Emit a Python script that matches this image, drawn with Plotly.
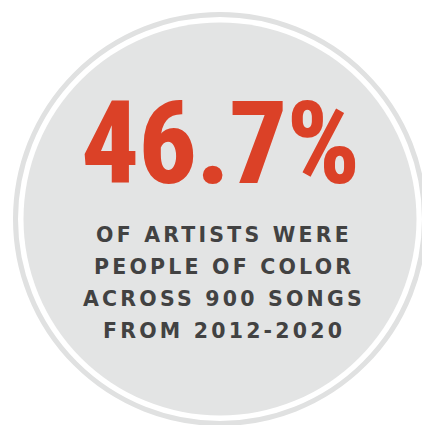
import plotly.graph_objects as go

# ---- content ----
headline = "46.7%"
subtitle_lines = [
    "OF ARTISTS WERE",
    "PEOPLE OF COLOR",
    "ACROSS 900 SONGS",
    "FROM 2012-2020",
]

# ---- styles ----
W, H = 422, 425
CX, CY = 220, 219
DISC_R = 196.5
RING_R = 204.5
DISC_COLOR = "#e3e4e4"
RING_COLOR = "#e0e1e1"
RED = "#db4127"
DARK = "#424242"

fig = go.Figure()

fig.add_shape(type="circle", xref="x", yref="y",
              x0=CX - RING_R, x1=CX + RING_R, y0=CY - RING_R, y1=CY + RING_R,
              line=dict(color=RING_COLOR, width=5), fillcolor="rgba(0,0,0,0)", layer="below")
fig.add_shape(type="circle", xref="x", yref="y",
              x0=CX - DISC_R, x1=CX + DISC_R, y0=CY - DISC_R, y1=CY + DISC_R,
              line=dict(width=0), fillcolor=DISC_COLOR, layer="below")

fig.add_annotation(
    x=220, y=143, xref="x", yref="y", xanchor="center", yanchor="middle",
    text=f'<span style="letter-spacing:-1px">{headline}</span>', showarrow=False,
    font=dict(family="Roboto Condensed, Open Sans, sans-serif",
              size=115, color=RED, weight=800),
)

for i, line in enumerate(subtitle_lines):
    fig.add_annotation(
        x=224, y=234.5 + 32 * i, xref="x", yref="y", xanchor="center", yanchor="middle",
        text=f'<span style="letter-spacing:3.2px">{line}</span>', showarrow=False,
        font=dict(family="DejaVu Sans, sans-serif", size=20.5, color=DARK, weight="bold"),
    )

fig.update_layout(
    width=W, height=H,
    margin=dict(l=0, r=0, t=0, b=0),
    paper_bgcolor="white", plot_bgcolor="white",
    xaxis=dict(range=[0, W], visible=False, fixedrange=True),
    yaxis=dict(range=[H, 0], visible=False, fixedrange=True),
    showlegend=False,
)

fig.write_html("out.html", config={"displayModeBar": False},
               post_script="document.body.style.margin='0';")
